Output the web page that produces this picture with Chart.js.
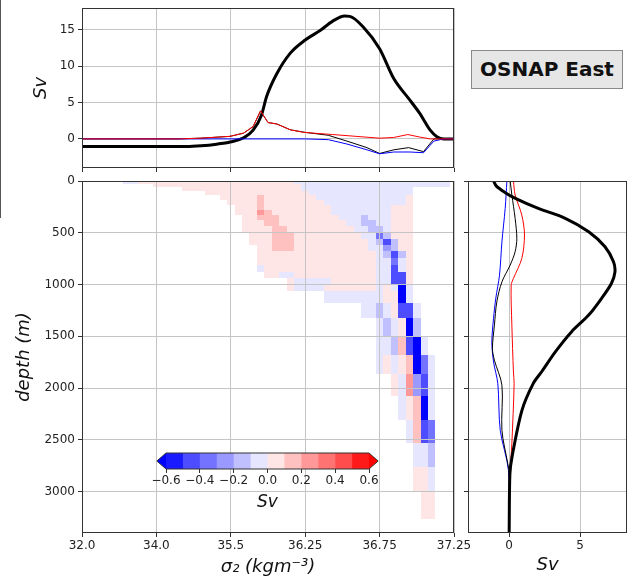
<!DOCTYPE html>
<html>
<head>
<meta charset="utf-8">
<script src="https://cdn.jsdelivr.net/npm/chart.js@4.4.1/dist/chart.umd.min.js"></script>
<style>
  body { margin: 0; background: #fff; }
  #wrap { position: relative; width: 628px; height: 579px; overflow: hidden; font-family: 'DejaVu Sans', sans-serif; }
  #wrap canvas { position: absolute; }
  #edge { position: absolute; left: 0; top: 0; width: 1px; height: 218px; background: #555; }
  #tag { position: absolute; left: 471px; top: 50px; width: 150px; height: 37px; border: 1px solid #888;
         background: #e6e6e6; font-weight: bold; font-size: 20px; line-height: 37px; text-align: center; color: #111; }
</style>
</head>
<body>
<div id="wrap">
  <div id="edge"></div>
  <canvas id="mainChart" width="628" height="404" style="left:0;top:175px"></canvas>
  <canvas id="topChart" width="628" height="175" style="left:0;top:0"></canvas>
  <canvas id="sideChart" width="168" height="404" style="left:460px;top:175px"></canvas>
  <canvas id="cbarChart" width="240" height="70" style="left:150px;top:445px"></canvas>
  <div id="tag">OSNAP East</div>
</div>
<script>
// sigma_2 axis is stretched: equal spacing between these ticks
const sigmaTicks = [32.0, 34.0, 35.5, 36.25, 36.75, 37.25];
const sigmaTickLabels = ['32.0', '34.0', '35.5', '36.25', '36.75', '37.25'];
const depthTicks = [0, 500, 1000, 1500, 2000, 2500, 3000];
const svTopTicks = [0, 5, 10, 15];
const svSideTicks = [0, 5];
const cbTicks = [-0.6, -0.4, -0.2, 0, 0.2, 0.4, 0.6];

// top panel, Sv against sigma_2
const sigTotal = [32.0, 34.6, 34.9, 35.215, 35.52, 35.63, 35.725, 35.81, 35.86, 35.965, 36.1, 36.25, 36.35, 36.435, 36.515, 36.55, 36.64, 36.75, 36.845, 36.955, 37.02, 37.09, 37.135, 37.18, 37.25];
const svTotal = [-1.05, -1.05, -0.95, -0.72, -0.35, 0.15, 1.2, 3.3, 5.8, 9.0, 11.8, 13.6, 14.9, 16.2, 16.9, 16.85, 15.4, 12.4, 8.3, 5.3, 3.5, 1.2, 0.3, 0, 0];
const sigRed = [32.0, 34.45, 34.885, 35.485, 35.63, 35.725, 35.8, 35.875, 35.965, 36.1, 36.235, 36.435, 36.75, 36.845, 36.94, 37.02, 37.09, 37.25];
const svRed = [0, 0, 0.1, 0.35, 0.8, 1.7, 3.85, 2.25, 2.05, 1.25, 0.9, 0.6, 0.1, 0.2, 0.6, 0.25, 0, 0];
const sigBlue = [32.0, 36.25, 36.405, 36.53, 36.665, 36.75, 36.845, 36.955, 37.045, 37.115, 37.18, 37.25];
const svBlue = [0, 0, -0.1, -0.7, -1.5, -2.05, -1.8, -1.8, -1.9, -0.3, 0, 0];
const sigNet = [32.0, 34.45, 34.885, 35.485, 35.63, 35.725, 35.8, 35.875, 35.965, 36.1, 36.25, 36.405, 36.53, 36.665, 36.75, 36.845, 36.945, 37.045, 37.115, 37.25];
const svNet = [0, 0, 0.1, 0.35, 0.8, 1.7, 3.85, 2.25, 2.05, 1.25, 0.9, 0.5, -0.3, -1.2, -2.0, -1.5, -1.2, -1.75, 0, 0];

// right panel, Sv against depth
const depthTotal = [0, 50, 110, 165, 265, 360, 490, 635, 780, 880, 990, 1135, 1295, 1455, 1650, 1840, 1955, 2215, 2665, 2830, 3400];
const svTotalZ = [-1.1, -0.9, -0.3, 0.4, 2.05, 3.95, 5.6, 6.75, 7.35, 7.45, 7.2, 6.5, 5.6, 4.4, 3.25, 2.3, 1.7, 0.9, 0.2, 0.05, 0];
const depthRed = [0, 135, 329, 522, 748, 941, 1006, 1393, 1844, 1956, 2534, 2824, 3400];
const svRedZ = [0.3, 0.42, 0.89, 1.08, 0.89, 0.3, 0.14, 0.19, 0.3, 0.35, 0.19, 0.07, 0];
const depthBlue = [0, 264, 587, 909, 1131, 1325, 1554, 1747, 1956, 2408, 2795, 3400];
const svBlueZ = [-0.16, -0.28, -0.51, -0.68, -0.94, -1.1, -1.22, -1.1, -0.8, -0.63, -0.05, 0];
const depthNet = [0, 135, 361, 554, 683, 812, 974, 1167, 1393, 1618, 1731, 1973, 2408, 2730, 2824, 3400];
const svNetZ = [0.07, 0.19, 0.42, 0.54, 0.42, 0.07, -0.51, -0.87, -1.04, -1.18, -1.04, -0.51, -0.51, -0.1, 0, 0];

// heatmap: depth bin edges (m), 51 sigma bins (10 per tick interval)
const depthEdges = [0, 25, 60, 100, 140, 180, 230, 280, 330, 380, 430, 500, 560, 620, 680, 745, 810, 875, 940, 1000, 1067, 1177, 1328, 1506, 1683, 1860, 2080, 2305, 2530, 2763, 3005, 3262];
// one list per depth bin: [first sigma bin, last sigma bin, Sv]
const cellRuns = [
  [[6, 7, -0.05], [8, 28, 0.05], [29, 49, -0.05]],
  [[10, 29, 0.05], [30, 49, -0.05]],
  [[14, 29, 0.05], [30, 44, -0.05]],
  [[17, 30, 0.05], [31, 44, -0.05]],
  [[19, 23, 0.05], [24, 24, 0.15], [25, 31, 0.05], [32, 43, -0.05], [44, 44, 0.05]],
  [[20, 23, 0.05], [24, 24, 0.15], [25, 32, 0.05], [33, 43, -0.05], [44, 44, 0.05]],
  [[21, 23, 0.05], [24, 24, 0.15], [25, 33, 0.05], [34, 41, -0.05], [42, 44, 0.05]],
  [[21, 23, 0.05], [24, 24, 0.25], [25, 25, 0.15], [26, 33, 0.05], [34, 41, -0.05], [42, 44, 0.05]],
  [[22, 23, 0.05], [24, 26, 0.15], [27, 34, 0.05], [35, 37, -0.05], [38, 38, -0.15], [39, 41, -0.05], [42, 44, 0.05]],
  [[22, 24, 0.05], [25, 26, 0.15], [27, 35, 0.05], [36, 37, -0.05], [38, 39, -0.15], [40, 41, -0.05], [42, 44, 0.05]],
  [[22, 25, 0.05], [26, 27, 0.15], [28, 36, 0.05], [37, 38, -0.05], [39, 40, -0.15], [41, 41, -0.05], [42, 44, 0.05]],
  [[23, 25, 0.05], [26, 28, 0.15], [29, 37, 0.05], [38, 39, -0.05], [40, 40, -0.35], [41, 41, -0.15], [42, 44, 0.05]],
  [[23, 25, 0.05], [26, 28, 0.15], [29, 38, 0.05], [39, 39, -0.05], [40, 40, -0.15], [41, 41, -0.45], [42, 42, -0.15], [43, 44, 0.05]],
  [[24, 25, 0.05], [26, 28, 0.15], [29, 38, 0.05], [39, 40, -0.05], [41, 41, -0.25], [42, 42, -0.15], [43, 44, 0.05]],
  [[24, 39, 0.05], [40, 40, -0.05], [41, 41, -0.15], [42, 42, -0.45], [43, 43, -0.15], [44, 44, 0.05]],
  [[24, 39, 0.05], [40, 41, -0.05], [42, 42, -0.35], [43, 43, -0.05], [44, 44, 0.05]],
  [[24, 24, -0.05], [25, 39, 0.05], [40, 41, -0.05], [42, 42, -0.45], [43, 43, -0.05], [44, 44, 0.05]],
  [[25, 26, 0.05], [27, 28, -0.05], [29, 39, 0.05], [40, 41, -0.05], [42, 43, -0.45], [44, 44, 0.05]],
  [[28, 28, 0.05], [29, 33, -0.05], [34, 39, 0.05], [40, 41, -0.05], [42, 43, -0.45], [44, 44, 0.05]],
  [[28, 28, 0.05], [29, 32, -0.05], [33, 39, 0.05], [40, 40, -0.05], [41, 41, 0.05], [42, 42, -0.05], [43, 43, -0.7], [44, 44, -0.05]],
  [[33, 40, -0.05], [41, 42, 0.05], [43, 43, -0.7], [44, 44, -0.05]],
  [[38, 39, -0.05], [40, 40, -0.15], [41, 41, -0.05], [42, 42, 0.05], [43, 44, -0.45], [45, 45, -0.05]],
  [[40, 40, -0.05], [41, 41, -0.15], [42, 42, -0.05], [43, 43, 0.05], [44, 44, -0.7], [45, 45, -0.15]],
  [[40, 41, -0.05], [42, 42, -0.15], [43, 43, 0.15], [44, 44, -0.45], [45, 45, -0.7], [46, 46, -0.05]],
  [[40, 40, -0.05], [41, 41, 0.05], [42, 42, -0.05], [43, 43, 0.05], [44, 44, 0.15], [45, 45, -0.7], [46, 46, -0.35], [47, 47, -0.05]],
  [[42, 42, 0.05], [43, 43, -0.05], [44, 44, 0.25], [45, 45, -0.25], [46, 46, -0.45], [47, 47, -0.05]],
  [[43, 43, -0.05], [44, 44, 0.05], [45, 45, 0.15], [46, 46, -0.7], [47, 47, -0.05]],
  [[44, 44, -0.05], [45, 45, 0.15], [46, 46, -0.45], [47, 47, -0.35]],
  [[45, 46, -0.05], [47, 47, -0.15]],
  [[45, 46, 0.05], [47, 47, -0.05]],
  [[46, 47, 0.05]]
];

// colorbar
const cbLevels = [-0.6, -0.5, -0.4, -0.3, -0.2, -0.1, 0, 0.1, 0.2, 0.3, 0.4, 0.5, 0.6];
const cbColors = ['#1a1aff', '#4d4dff', '#7373ff', '#9999ff', '#c0c0ff', '#e6e6ff',
                  '#ffe6e6', '#ffc0c0', '#ff9999', '#ff7373', '#ff4d4d', '#ff1a1a'];
const cbUnder = '#0000ff';
const cbOver = '#ff0000';

Chart.defaults.font.family = "'DejaVu Sans', sans-serif";
Chart.defaults.font.size = 12;
Chart.defaults.color = '#222';

function sigToPos(s) {
    for (let i = 0; i < sigmaTicks.length - 1; i++) {
        if (s <= sigmaTicks[i + 1]) return i + (s - sigmaTicks[i]) / (sigmaTicks[i + 1] - sigmaTicks[i]);
    }
    return sigmaTicks.length - 1;
}

function levelColor(v) {
    if (v < cbLevels[0]) return cbUnder;
    if (v > cbLevels[cbLevels.length - 1]) return cbOver;
    let k = Math.floor((v - cbLevels[0]) / 0.1 + 1e-9);
    return cbColors[Math.min(k, cbColors.length - 1)];
}

function fixedTicks(values) {
    return function (scale) {
        scale.ticks = values.map(v => ({ value: v }));
    };
}

// fixed axis size, and no extra room for labels hanging past the ends
function fitY(width) {
    return function (s) { s.width = width; s.paddingTop = 0; s.paddingBottom = 0; };
}
function fitX(height) {
    return function (s) { s.height = height; s.paddingLeft = 0; s.paddingRight = 0; };
}

function grid() {
    return { color: '#c4c4c4', lineWidth: 1, tickLength: 4, tickColor: '#333', tickWidth: 1 };
}

const framePlugin = {
    id: 'frame',
    afterDraw(chart) {
        const a = chart.chartArea, c = chart.ctx;
        c.save();
        c.strokeStyle = '#333';
        c.lineWidth = 1;
        c.strokeRect(Math.round(a.left) + 0.5, Math.round(a.top) + 0.5,
                     Math.round(a.right - a.left) - 1, Math.round(a.bottom - a.top) - 1);
        c.restore();
    }
};

const heatPlugin = {
    id: 'heat',
    beforeDraw(chart) {
        const xs = chart.scales.x, ys = chart.scales.y, c = chart.ctx, a = chart.chartArea;
        c.save();
        c.beginPath();
        c.rect(a.left, a.top, a.right - a.left, a.bottom - a.top);
        c.clip();
        cellRuns.forEach((runs, r) => {
            const y0 = Math.round(ys.getPixelForValue(depthEdges[r]));
            const y1 = Math.round(ys.getPixelForValue(depthEdges[r + 1]));
            runs.forEach(([j0, j1, v]) => {
                const x0 = Math.round(xs.getPixelForValue((j0 - 0.5) / 10));
                const x1 = Math.round(xs.getPixelForValue((j1 + 0.5) / 10));
                c.fillStyle = levelColor(v);
                c.fillRect(x0, y0, x1 - x0, y1 - y0);
            });
        });
        c.restore();
    }
};

const cbarPlugin = {
    id: 'cbar',
    beforeDraw(chart) {
        const xs = chart.scales.x, a = chart.chartArea, c = chart.ctx;
        const ext = (a.right - a.left) * 0.045, ym = (a.top + a.bottom) / 2;
        c.save();
        cbColors.forEach((col, k) => {
            const x0 = xs.getPixelForValue(cbLevels[k]), x1 = xs.getPixelForValue(cbLevels[k + 1]);
            c.fillStyle = col;
            c.fillRect(x0, a.top, x1 - x0 + 0.5, a.bottom - a.top);
        });
        c.fillStyle = cbUnder;
        c.beginPath(); c.moveTo(a.left, a.top); c.lineTo(a.left - ext, ym); c.lineTo(a.left, a.bottom); c.closePath(); c.fill();
        c.fillStyle = cbOver;
        c.beginPath(); c.moveTo(a.right, a.top); c.lineTo(a.right + ext, ym); c.lineTo(a.right, a.bottom); c.closePath(); c.fill();
        c.strokeStyle = '#333';
        c.lineWidth = 1;
        c.beginPath();
        c.moveTo(a.left, a.top); c.lineTo(a.right, a.top); c.lineTo(a.right + ext, ym);
        c.lineTo(a.right, a.bottom); c.lineTo(a.left, a.bottom); c.lineTo(a.left - ext, ym);
        c.closePath(); c.stroke();
        c.restore();
    }
};

function sigSeries(sig, sv) {
    return sig.map((s, i) => ({ x: sigToPos(s), y: sv[i] }));
}
function depthSeries(depth, sv) {
    return depth.map((d, i) => ({ x: sv[i], y: d }));
}

const baseOpts = { responsive: false, animation: false, devicePixelRatio: 1, events: [] };
const noPlugins = { legend: { display: false }, tooltip: { enabled: false } };

// top panel
new Chart(document.getElementById('topChart'), {
    type: 'scatter',
    data: {
        datasets: [
            { data: sigSeries(sigRed, svRed), borderColor: '#ff0000', borderWidth: 1, showLine: true, pointRadius: 0 },
            { data: sigSeries(sigBlue, svBlue), borderColor: '#0000ff', borderWidth: 1, showLine: true, pointRadius: 0 },
            { data: sigSeries(sigNet, svNet), borderColor: '#000', borderWidth: 1, showLine: true, pointRadius: 0 },
            { data: sigSeries(sigTotal, svTotal), borderColor: '#000', borderWidth: 3, showLine: true, pointRadius: 0,
              cubicInterpolationMode: 'monotone' }
        ]
    },
    options: Object.assign({}, baseOpts, {
        layout: { padding: { top: 8, right: 174, left: 0, bottom: 0 } },
        plugins: noPlugins,
        scales: {
            x: {
                type: 'linear', min: 0, max: 5,
                grid: grid(), border: { display: false },
                ticks: { callback: () => '' },
                afterBuildTicks: fixedTicks([0, 1, 2, 3, 4, 5]),
                afterFit: fitX(7)
            },
            y: {
                type: 'linear', min: -4, max: 18,
                grid: grid(), border: { display: false },
                ticks: { padding: 3, callback: v => String(v) },
                afterBuildTicks: fixedTicks(svTopTicks),
                afterFit: fitY(82),
                title: { display: true, text: 'Sv', font: { size: 18, style: 'italic' }, color: '#111', padding: { top: 31 } }
            }
        }
    }),
    plugins: [framePlugin]
});

// heatmap panel
new Chart(document.getElementById('mainChart'), {
    type: 'scatter',
    data: { datasets: [] },
    options: Object.assign({}, baseOpts, {
        layout: { padding: { top: 6, right: 174, left: 0, bottom: 0 } },
        plugins: noPlugins,
        scales: {
            x: {
                type: 'linear', min: 0, max: 5,
                grid: grid(), border: { display: false },
                ticks: { padding: 2, maxRotation: 0, autoSkip: false,
                         callback: v => sigmaTickLabels[Math.round(v)] },
                afterBuildTicks: fixedTicks([0, 1, 2, 3, 4, 5]),
                afterFit: fitX(46),
                title: { display: true, text: 'σ₂ (kgm⁻³)', font: { size: 18, style: 'italic' }, color: '#111',
                         padding: { top: 0, bottom: 1 } }
            },
            y: {
                type: 'linear', min: 0, max: 3400, reverse: true,
                grid: grid(), border: { display: false },
                ticks: { padding: 3, autoSkip: false, callback: v => String(v) },
                afterBuildTicks: fixedTicks(depthTicks),
                afterFit: fitY(82),
                title: { display: true, text: 'depth (m)', font: { size: 18, style: 'italic' }, color: '#111', padding: { top: 14 } }
            }
        }
    }),
    plugins: [heatPlugin, framePlugin]
});

// right panel
new Chart(document.getElementById('sideChart'), {
    type: 'scatter',
    data: {
        datasets: [
            { data: depthSeries(depthTotal, svTotalZ), borderColor: '#000', borderWidth: 3, showLine: true, pointRadius: 0, tension: 0.3 },
            { data: depthSeries(depthRed, svRedZ), borderColor: '#ff0000', borderWidth: 1, showLine: true, pointRadius: 0, tension: 0.3 },
            { data: depthSeries(depthNet, svNetZ), borderColor: '#000', borderWidth: 1, showLine: true, pointRadius: 0, tension: 0.3 },
            { data: depthSeries(depthBlue, svBlueZ), borderColor: '#0000ff', borderWidth: 1, showLine: true, pointRadius: 0, tension: 0.3 }
        ]
    },
    options: Object.assign({}, baseOpts, {
        layout: { padding: { top: 6, right: 1, left: 0, bottom: 0 } },
        plugins: noPlugins,
        scales: {
            x: {
                type: 'linear', min: -2.9, max: 8.3,
                grid: grid(), border: { display: false },
                ticks: { padding: 2, maxRotation: 0, callback: v => String(v) },
                afterBuildTicks: fixedTicks(svSideTicks),
                afterFit: fitX(46),
                title: { display: true, text: 'Sv', font: { size: 18, style: 'italic' }, color: '#111', padding: { top: 0, bottom: 3 } }
            },
            y: {
                type: 'linear', min: 0, max: 3400, reverse: true,
                grid: grid(), border: { display: false },
                ticks: { callback: () => '', autoSkip: false },
                afterBuildTicks: fixedTicks(depthTicks),
                afterFit: fitY(8)
            }
        }
    }),
    plugins: [framePlugin]
});

// colorbar
new Chart(document.getElementById('cbarChart'), {
    type: 'scatter',
    data: { datasets: [] },
    options: Object.assign({}, baseOpts, {
        layout: { padding: { top: 8, right: 21, left: 16, bottom: 0 } },
        plugins: noPlugins,
        scales: {
            x: {
                type: 'linear', min: -0.6, max: 0.6,
                grid: { display: true, drawOnChartArea: false, tickLength: 4, tickColor: '#333' },
                border: { display: false },
                ticks: { padding: 1, maxRotation: 0, autoSkip: false,
                         callback: v => (Math.abs(v) < 1e-9 ? 0 : v).toFixed(1).replace('-', '\u2212') },
                afterBuildTicks: fixedTicks(cbTicks),
                afterFit: fitX(46),
                title: { display: true, text: 'Sv', font: { size: 17, style: 'italic' }, color: '#111', padding: { top: 0, bottom: 2 } }
            },
            y: { display: false, min: 0, max: 1 }
        }
    }),
    plugins: [cbarPlugin]
});
</script>
</body>
</html>
